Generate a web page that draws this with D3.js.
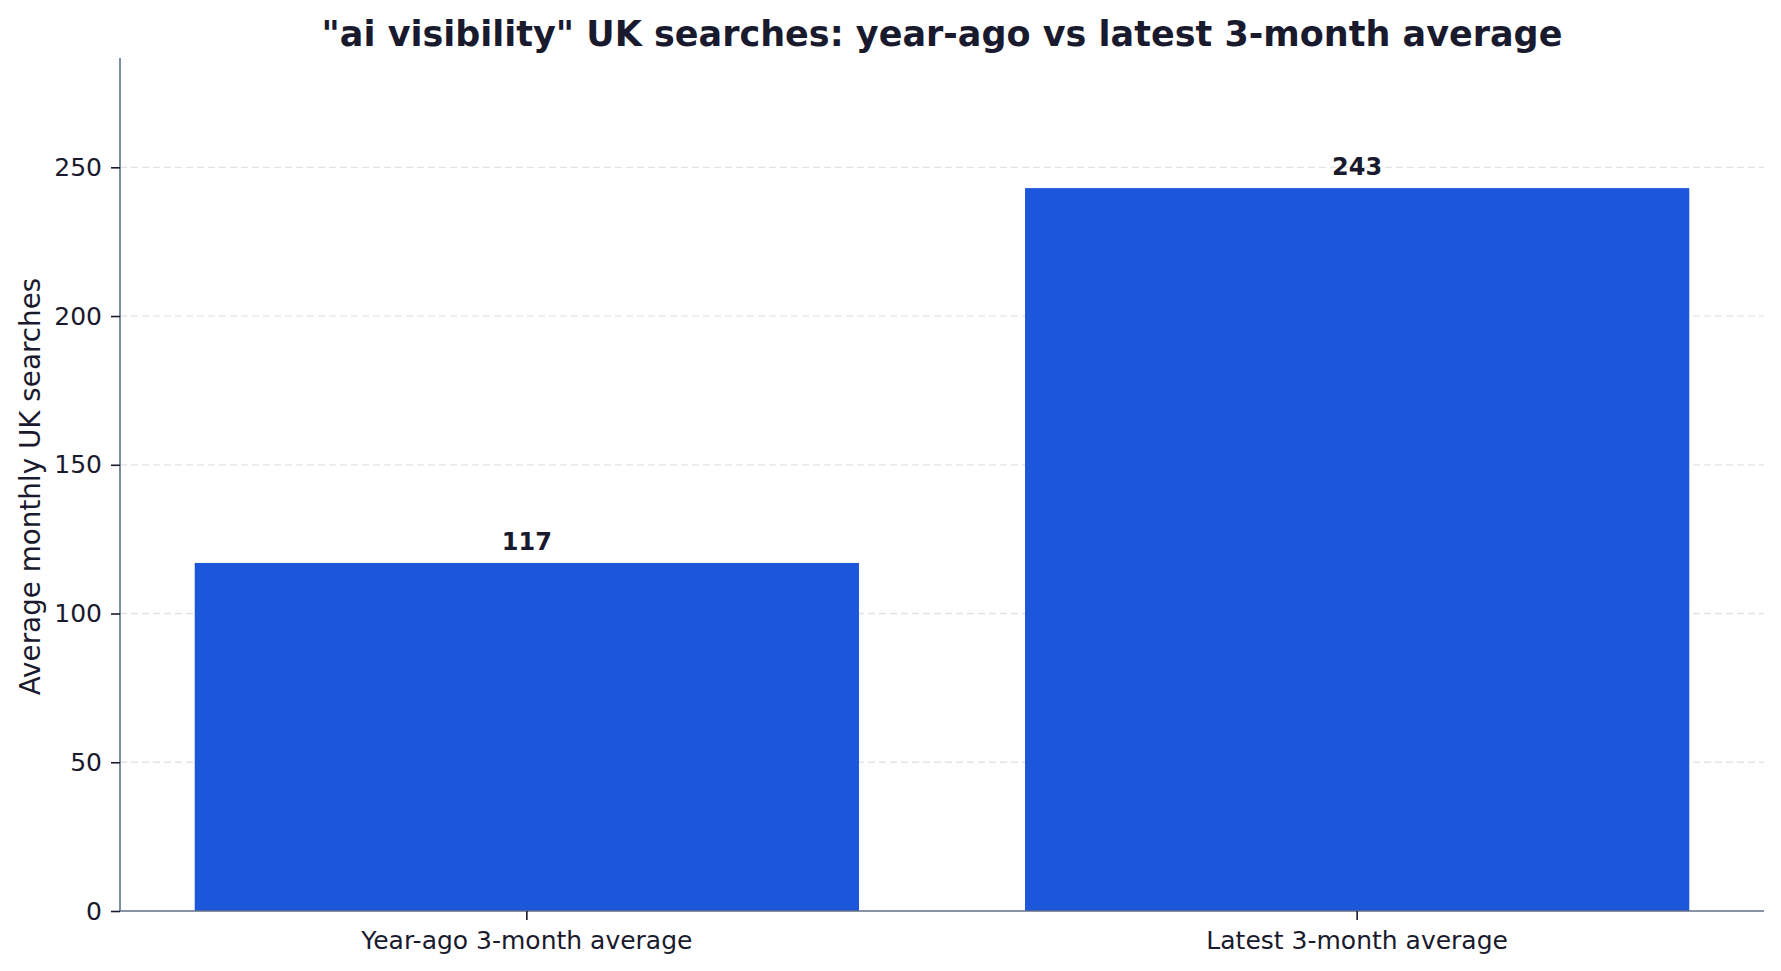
<!DOCTYPE html>
<html>
<head>
<meta charset="utf-8">
<script src="https://cdn.jsdelivr.net/npm/d3@7/dist/d3.min.js"></script>
<style>
  html, body { margin: 0; padding: 0; background: #ffffff; }
  svg { display: block; font-family: "DejaVu Sans", sans-serif; }
</style>
</head>
<body>
<svg id="chart" width="1781" height="971"></svg>
<script>
const categories = ["Year-ago 3-month average", "Latest 3-month average"];
const values = [117, 243];
const yTicks = [0, 50, 100, 150, 200, 250];
const titleText = '"ai visibility" UK searches: year-ago vs latest 3-month average';
const yLabelText = "Average monthly UK searches";

const W = 1781, H = 971;
const margin = { top: 58, right: 17, bottom: 60, left: 120 };
const textColor = "#1a1a2e";
const spineColor = "#5f6f86";
const barColor = "#1b56db";

const svg = d3.select("#chart");

const x = d3.scaleBand()
  .domain(categories)
  .range([margin.left, W - margin.right])
  .paddingInner(0.2)
  .paddingOuter(0.09);

const yMax = d3.max(values) * 1.18;
const y = d3.scaleLinear()
  .domain([0, yMax])
  .range([H - margin.bottom, margin.top]);

// gridlines
svg.append("g")
  .selectAll("line")
  .data(yTicks.filter(d => d > 0))
  .join("line")
  .attr("x1", margin.left)
  .attr("x2", W - margin.right)
  .attr("y1", d => y(d))
  .attr("y2", d => y(d))
  .attr("stroke", "#e3e3e3")
  .attr("stroke-width", 1.3)
  .attr("stroke-dasharray", "7,4");

// bars
svg.append("g")
  .selectAll("rect")
  .data(values)
  .join("rect")
  .attr("x", (d, i) => x(categories[i]))
  .attr("width", x.bandwidth())
  .attr("y", d => y(d))
  .attr("height", d => y(0) - y(d))
  .attr("fill", barColor);

// value labels
svg.append("g")
  .selectAll("text")
  .data(values)
  .join("text")
  .attr("x", (d, i) => x(categories[i]) + x.bandwidth() / 2)
  .attr("y", d => y(d) - 13)
  .attr("text-anchor", "middle")
  .attr("font-size", 24)
  .attr("font-weight", "bold")
  .attr("fill", textColor)
  .text(d => d);

// y axis
const yAxis = svg.append("g")
  .attr("transform", `translate(${margin.left},0)`)
  .call(d3.axisLeft(y).tickValues(yTicks).tickSize(9).tickPadding(9));
yAxis.select(".domain").attr("stroke", spineColor).attr("stroke-width", 1.6)
  .attr("d", `M0,${y(0)}V${margin.top}`);
yAxis.selectAll(".tick line").attr("stroke", textColor).attr("stroke-width", 1.6);
yAxis.selectAll(".tick text").attr("fill", textColor).attr("font-size", 25)
  .attr("font-family", "DejaVu Sans");

// x axis
const xAxis = svg.append("g")
  .attr("transform", `translate(0,${y(0)})`)
  .call(d3.axisBottom(x).tickSize(9).tickPadding(11));
xAxis.select(".domain").attr("stroke", spineColor).attr("stroke-width", 1.6)
  .attr("d", `M${margin.left},0H${W - margin.right}`);
xAxis.selectAll(".tick line").attr("stroke", textColor).attr("stroke-width", 1.6);
xAxis.selectAll(".tick text").attr("fill", textColor).attr("font-size", 25)
  .attr("font-family", "DejaVu Sans");

// y label
svg.append("text")
  .attr("transform", `translate(40,${(y(0) + margin.top) / 2 + 2}) rotate(-90)`)
  .attr("text-anchor", "middle")
  .attr("font-size", 27.8)
  .attr("fill", textColor)
  .text(yLabelText);

// title
svg.append("text")
  .attr("x", (margin.left + W - margin.right) / 2)
  .attr("y", 46)
  .attr("text-anchor", "middle")
  .attr("font-size", 35)
  .attr("font-weight", "bold")
  .attr("fill", textColor)
  .text(titleText);
</script>
</body>
</html>
